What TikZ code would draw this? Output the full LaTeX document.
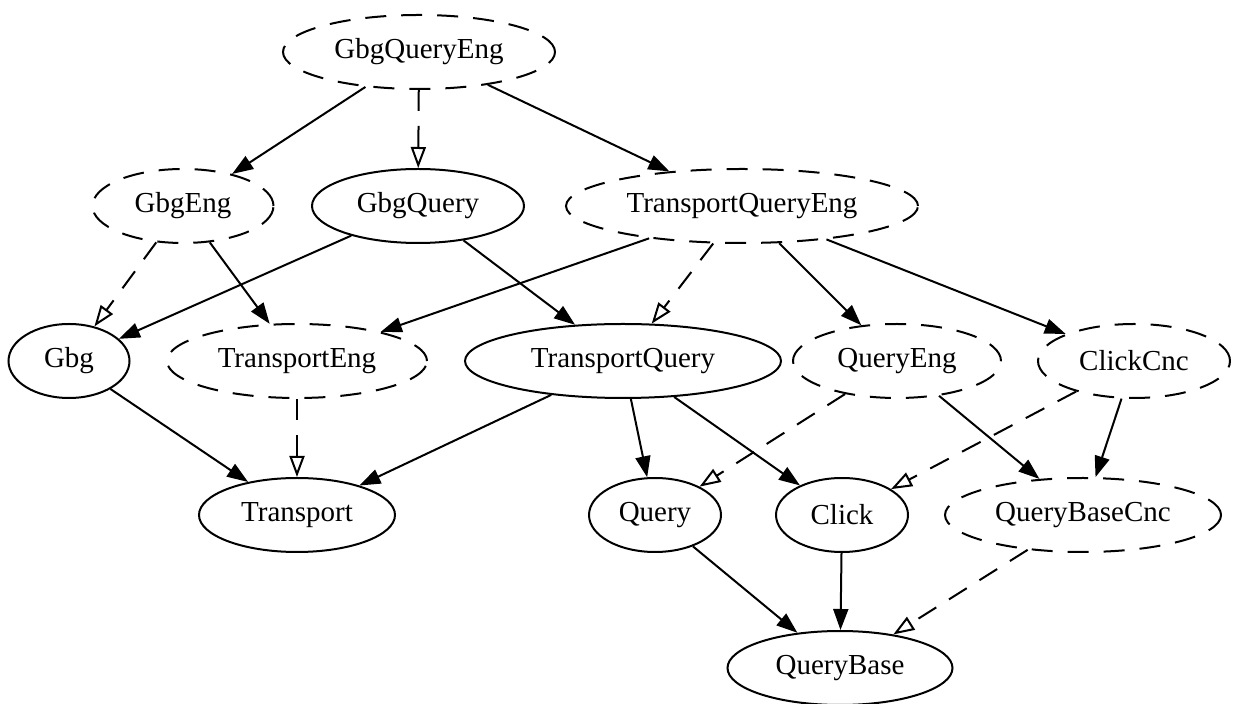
\documentclass[tikz,border=0pt]{standalone}
\usepackage{fontspec}
\setmainfont{Liberation Serif}
\usetikzlibrary{shapes.geometric}
\usetikzlibrary{arrows.meta}

\begin{document}
\begin{tikzpicture}[x=0.5pt, y=-0.5pt,
  mod/.style={ellipse, draw, line width=1pt, inner sep=0pt, minimum height=37pt,
    font=\fontsize{14.5}{17}\selectfont},
  iface/.style={mod, dash pattern=on 10.5pt off 7.5pt},
  uses/.style={line width=1pt, -{Triangle[length=10.5pt, width=7.5pt]}},
  impl/.style={line width=1pt, dash pattern=on 10.5pt off 7.5pt,
    -{Triangle[open, length=10.5pt, width=7.5pt]}}]
  \useasboundingbox (0,0) rectangle (1236,704);

  % top rank
  \node[iface, minimum width=136pt] (gqe) at (419,52) {GbgQueryEng};

  % second rank
  \node[iface, minimum width=90.5pt] (ge) at (183,206) {GbgEng};
  \node[mod, minimum width=106pt] (gq) at (418,206) {GbgQuery};
  \node[iface, minimum width=176pt] (tqe) at (742,206) {TransportQueryEng};

  % third rank
  \node[mod, minimum width=60.5pt] (g) at (69,361) {Gbg};
  \node[iface, minimum width=130pt] (te) at (297,361) {TransportEng};
  \node[mod, minimum width=158pt] (tq) at (623,361) {TransportQuery};
  \node[iface, minimum width=104pt] (qe) at (897,361) {QueryEng};
  \node[iface, minimum width=96pt] (cc) at (1134,361) {ClickCnc};

  % fourth rank
  \node[mod, minimum width=98pt] (t) at (297,515) {Transport};
  \node[mod, minimum width=66pt] (q) at (655,515) {Query};
  \node[mod, minimum width=66pt] (c) at (842,515) {Click};
  \node[iface, minimum width=138pt] (qbc) at (1083,515) {QueryBaseCnc};

  % bottom rank
  \node[mod, minimum width=112.5pt] (qb) at (840,668) {QueryBase};

  % solid dependencies
  \foreach \a/\b in {gqe/ge, gqe/tqe, ge/te, gq/g, gq/tq, tqe/te, tqe/qe, tqe/cc,
                     g/t, tq/t, tq/q, tq/c, qe/qbc, cc/qbc, q/qb, c/qb}{
    \draw[uses] (\a) -- (\b);
  }

  % dashed (open tip) dependencies
  \foreach \a/\b in {gqe/gq, ge/g, tqe/tq, te/t, qe/q, cc/c, qbc/qb}{
    \draw[impl] (\a) -- (\b);
  }
\end{tikzpicture}
\end{document}
